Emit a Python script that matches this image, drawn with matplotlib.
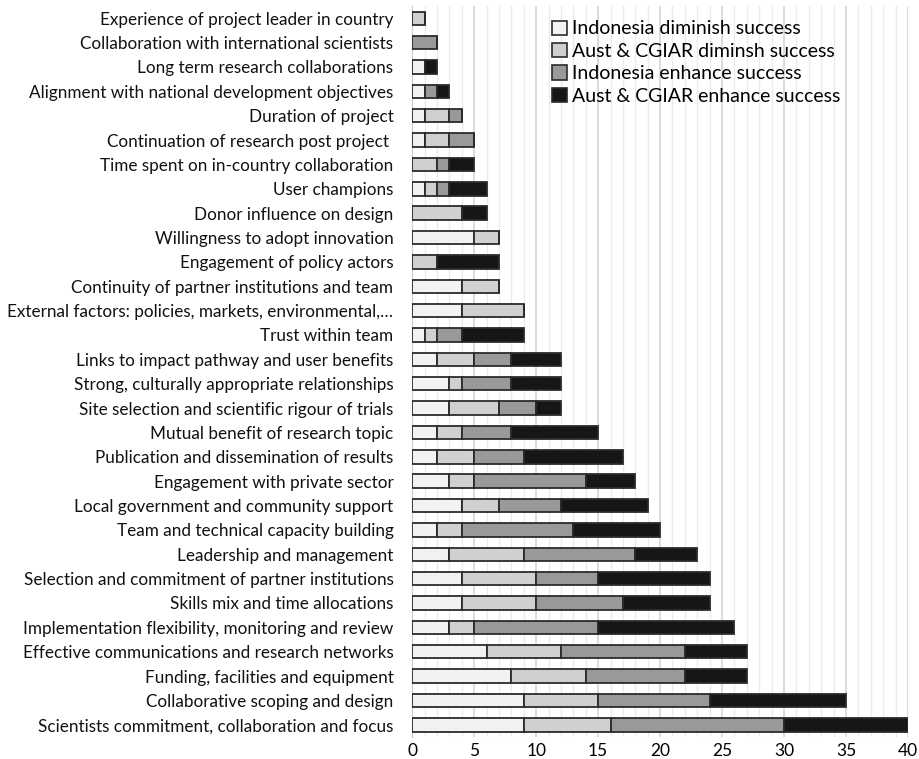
import numpy as np
import matplotlib
matplotlib.use("Agg")
import matplotlib.pyplot as plt
from matplotlib.patches import Patch

plt.rcParams['font.family'] = ['Lato', 'DejaVu Sans']

# categories, top to bottom as shown
categories = [
    "Experience of project leader in country",
    "Collaboration with international scientists",
    "Long term research collaborations",
    "Alignment with national development objectives",
    "Duration of project",
    "Continuation of research post project ",
    "Time spent on in-country collaboration",
    "User champions",
    "Donor influence on design",
    "Willingness to adopt innovation",
    "Engagement of policy actors",
    "Continuity of partner institutions and team",
    "External factors: policies, markets, environmental,\u2026",
    "Trust within team",
    "Links to impact pathway and user benefits",
    "Strong, culturally appropriate relationships",
    "Site selection and scientific rigour of trials",
    "Mutual benefit of research topic",
    "Publication and dissemination of results",
    "Engagement with private sector",
    "Local government and community support",
    "Team and technical capacity building",
    "Leadership and management",
    "Selection and commitment of partner institutions",
    "Skills mix and time allocations",
    "Implementation flexibility, monitoring and review",
    "Effective communications and research networks",
    "Funding, facilities and equipment",
    "Collaborative scoping and design",
    "Scientists commitment, collaboration and focus",
]

indo_diminish = [0, 0, 1, 1, 1, 1, 0, 1, 0, 5, 0, 4, 4, 1, 2, 3, 3, 2, 2, 3, 4, 2, 3, 4, 4, 3, 6, 8, 9, 9]
aus_diminish  = [1, 0, 0, 0, 2, 2, 2, 1, 4, 2, 2, 3, 5, 1, 3, 1, 4, 2, 3, 2, 3, 2, 6, 6, 6, 2, 6, 6, 6, 7]
indo_enhance  = [0, 2, 0, 1, 1, 2, 1, 1, 0, 0, 0, 0, 0, 2, 3, 4, 3, 4, 4, 9, 5, 9, 9, 5, 7, 10, 10, 8, 9, 14]
aus_enhance   = [0, 0, 1, 1, 0, 0, 2, 3, 2, 0, 5, 0, 0, 5, 4, 4, 2, 7, 8, 4, 7, 7, 5, 9, 7, 11, 5, 5, 11, 10]

series_names = ["Indonesia diminish success", "Aust & CGIAR diminsh success",
                "Indonesia enhance success", "Aust & CGIAR enhance success"]
series_colors = ["#f2f2f2", "#d0d0d0", "#999999", "#161616"]
series = [indo_diminish, aus_diminish, indo_enhance, aus_enhance]

fig = plt.figure(figsize=(9.2, 7.59), dpi=100)
ax = fig.add_axes([0.448, 0.029, 0.539, 0.963])

y = np.arange(len(categories))
left = np.zeros(len(categories))
for vals, col, name in zip(series, series_colors, series_names):
    vals = np.array(vals, dtype=float)
    ax.barh(y, vals, left=left, height=0.55, color=col, edgecolor="#2b2b2b",
            linewidth=1.3, label=name, zorder=3)
    left += vals

ax.set_ylim(len(categories) - 0.5, -0.5)
ax.set_xlim(0, 40)
ax.set_yticks(y)
ax.set_yticklabels(categories, fontsize=12.3, color="#111111")
ax.set_xticks(np.arange(0, 41, 5))
ax.tick_params(axis='x', labelsize=12.5, length=0, pad=4)
ax.tick_params(axis='y', length=0, pad=13.5)
ax.set_xticks(np.arange(0, 41, 1), minor=True)
ax.tick_params(axis='x', which='minor', length=0)
ax.grid(axis='x', which='minor', color="#ebebeb", linewidth=1.0, zorder=0)
ax.grid(axis='x', which='major', color="#dcdcdc", linewidth=1.4, zorder=0)
for s in ['top', 'right', 'bottom']:
    ax.spines[s].set_visible(False)
ax.spines['left'].set_color("#cccccc")

handles = [Patch(facecolor=c, edgecolor="#2b2b2b", linewidth=1.2) for c in series_colors]
ax.legend(handles, series_names, loc='upper left', bbox_to_anchor=(0.267, 0.991),
          frameon=False, fontsize=14, handlelength=0.75, handleheight=0.75,
          handletextpad=0.25, labelspacing=0.28, borderaxespad=0)

fig.savefig("out.png", dpi=100)
